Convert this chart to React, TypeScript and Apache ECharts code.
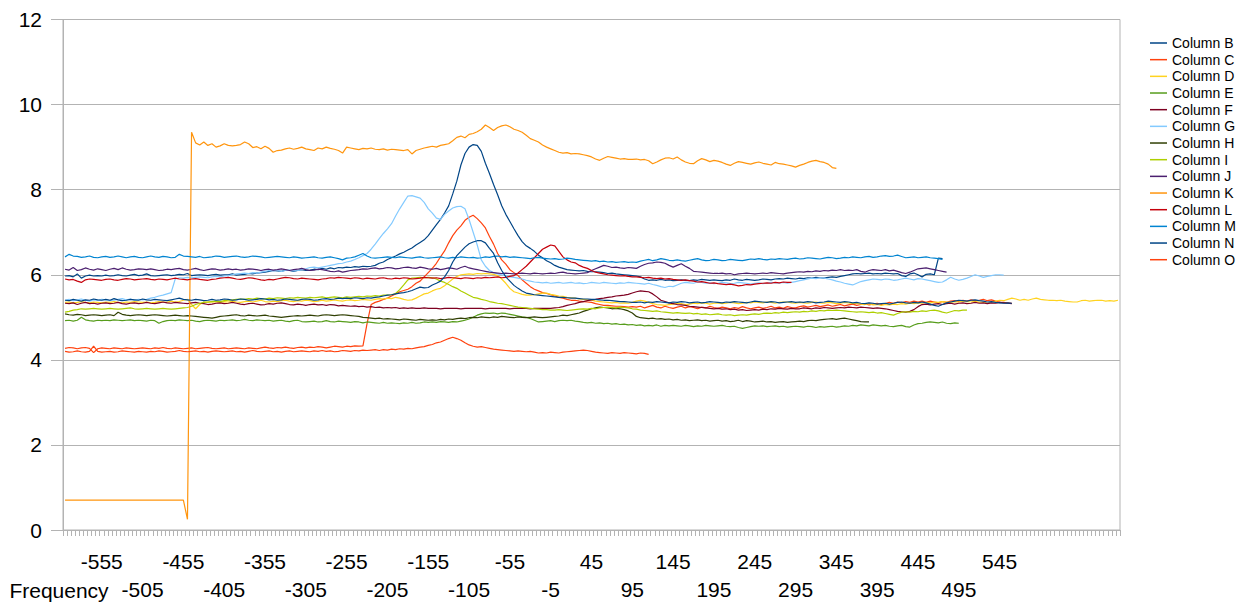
import React, { useEffect, useRef } from 'react';
import * as echarts from 'echarts';

const axisTitle = 'Frequency';

const categories: (number | string)[] = [
  -600,-595,-590,-585,-580,-575,-570,-565,-560,-555,-550,-545,-540,-535,-530,-525,-520,-515,-510,-505,
  -500,-495,-490,-485,-480,-475,-470,-465,-460,-455,-450,-445,-440,-435,-430,-425,-420,-415,-410,-405,
  -400,-395,-390,-385,-380,-375,-370,-365,-360,-355,-350,-345,-340,-335,-330,-325,-320,-315,-310,-305,
  -300,-295,-290,-285,-280,-275,-270,-265,-260,-255,-250,-245,-240,-235,-230,-225,-220,-215,-210,-205,
  -200,-195,-190,-185,-180,-175,-170,-165,-160,-155,-150,-145,-140,-135,-130,-125,-120,-115,-110,-105,
  -100,-95,-90,-85,-80,-75,-70,-65,-60,-55,-50,-45,-40,-35,-30,-25,-20,-15,-10,-5,
  0,5,10,15,20,25,30,35,40,45,50,55,60,65,70,75,80,85,90,95,
  100,105,110,115,120,125,130,135,140,145,150,155,160,165,170,175,180,185,190,195,
  200,205,210,215,220,225,230,235,240,245,250,255,260,265,270,275,280,285,290,295,
  300,305,310,315,320,325,330,335,340,345,350,355,360,365,370,375,380,385,390,395,
  400,405,410,415,420,425,430,435,440,445,450,455,460,465,470,475,480,485,490,495,
  500,505,510,515,520,525,530,535,540,545,550,555,560,
  '','','','','','','','','','','','','','','','','','','','','','','','','',''
];

const seriesNames = ['Column B','Column C','Column D','Column E','Column F','Column G','Column H','Column I','Column J','Column K','Column L','Column M','Column N','Column O'];
const colors = ['#004586','#ff420e','#ffd320','#579d1c','#7e0021','#83caff','#314004','#aecf00','#4b1f6f','#ff950e','#c5000b','#0084d1','#004586','#ff420e'];

const colB = [
5.97,5.98,5.95,6.02,5.92,5.97,5.99,5.97,5.98,5.97,
5.99,5.97,5.98,6.0,5.98,5.97,5.99,6.01,5.98,5.99,
6.02,5.98,5.97,5.98,5.99,6.0,5.98,5.99,6.01,6.0,
6.03,5.98,5.99,6.0,5.99,5.98,6.0,6.01,5.99,6.0,
6.0,6.02,5.99,6.0,6.01,6.03,6.02,6.04,6.05,6.06,
6.08,6.1,6.09,6.08,6.11,6.1,6.08,6.1,6.12,6.1,
6.11,6.13,6.12,6.15,6.13,6.16,6.14,6.17,6.16,6.18,
6.17,6.19,6.18,6.2,6.19,6.2,6.22,6.27,6.3,6.36,
6.4,6.44,6.49,6.53,6.58,6.63,6.7,6.76,6.82,6.92,
7.05,7.18,7.3,7.45,7.62,7.9,8.2,8.58,8.85,9.0,
9.06,9.04,8.9,8.62,8.38,8.12,7.88,7.62,7.42,7.25,
7.08,6.92,6.78,6.68,6.62,6.55,6.46,6.4,6.33,6.28,
6.22,6.18,6.15,6.12,6.11,6.1,6.09,6.1,6.08,6.07,
6.07,6.06,6.05,6.03,6.04,6.02,6.01,6.0,5.99,5.98,
5.97,5.95,5.9,5.87,5.88,5.87,5.89,5.87,5.88,5.86,
5.87,5.88,5.87,5.86,5.88,5.87,5.89,5.88,5.87,5.88,
5.87,5.86,5.88,5.87,5.9,5.88,5.87,5.89,5.88,5.87,
5.88,5.9,5.89,5.88,5.9,5.91,5.9,5.92,5.91,5.9,
5.92,5.91,5.93,5.92,5.94,5.93,5.92,5.94,5.95,5.94,
5.96,5.98,6.0,6.02,6.03,6.02,6.03,6.04,6.02,6.03,
6.02,6.04,6.03,6.02,6.03,5.98,5.96,6.02,6.04,6.0,
5.95,6.01,6.02,6.0,6.39,6.38
];

const colC = [
4.27,4.29,4.28,4.26,4.28,4.29,4.27,4.17,4.26,4.28,
4.27,4.26,4.28,4.27,4.26,4.28,4.27,4.26,4.27,4.28,
4.27,4.26,4.28,4.27,4.29,4.27,4.26,4.28,4.27,4.26,
4.27,4.28,4.26,4.27,4.28,4.29,4.27,4.26,4.27,4.28,
4.26,4.27,4.28,4.27,4.26,4.28,4.27,4.26,4.28,4.3,
4.28,4.27,4.29,4.28,4.3,4.28,4.27,4.29,4.3,4.28,
4.3,4.29,4.31,4.3,4.28,4.3,4.32,4.31,4.3,4.32,
4.31,4.33,4.32,4.33,4.85,5.3,5.35,5.38,5.42,5.45,
5.5,5.55,5.6,5.63,5.66,5.72,5.8,5.85,5.95,6.05,
6.15,6.27,6.42,6.56,6.75,6.92,7.05,7.15,7.28,7.35,
7.4,7.32,7.22,7.1,6.9,6.72,6.5,6.35,6.25,6.12,
6.05,5.98,5.88,5.8,5.72,5.66,5.62,5.58,5.56,5.53,
5.5,5.47,5.45,5.42,5.4,5.4,5.38,5.37,5.36,5.35,
5.32,5.3,5.28,5.28,5.27,5.26,5.26,5.25,5.24,5.25,
5.24,5.26,5.22,5.25,5.28,5.24,5.22,5.26,5.23,5.21,
5.24,5.26,5.22,5.25,5.23,5.2,5.24,5.22,5.26,5.23,
5.21,5.24,5.22,5.2,5.23,5.21,5.25,5.22,5.2,5.22,
5.24,5.21,5.23,5.26,5.22,5.24,5.21,5.25,5.23,5.22,
5.25,5.27,5.24,5.26,5.28,5.25,5.27,5.29,5.26,5.28,
5.3,5.27,5.29,5.31,5.28,5.3,5.32,5.29,5.31,5.33,
5.3,5.32,5.35,5.33,5.36,5.34,5.37,5.35,5.38,5.36,
5.38,5.35,5.38,5.36,5.34,5.37,5.35,5.38,5.39,5.37,
5.4,5.38,5.41,5.39,5.4,5.42,5.39,5.41,5.38,5.36,
5.35,5.34,5.33
];

const colD = [
5.35,5.36,5.34,5.35,5.37,5.35,5.34,5.36,5.35,5.34,
5.36,5.35,5.37,5.35,5.34,5.36,5.35,5.37,5.36,5.35,
5.36,5.34,5.35,5.37,5.36,5.35,5.38,5.36,5.37,5.4,
5.42,5.3,5.2,5.3,5.36,5.35,5.37,5.36,5.35,5.37,
5.36,5.38,5.36,5.35,5.37,5.38,5.36,5.38,5.4,5.37,
5.36,5.38,5.37,5.39,5.4,5.38,5.37,5.39,5.38,5.4,
5.39,5.37,5.38,5.4,5.38,5.39,5.41,5.39,5.38,5.4,
5.41,5.39,5.4,5.42,5.41,5.4,5.42,5.44,5.43,5.45,
5.44,5.47,5.45,5.42,5.4,5.41,5.45,5.5,5.55,5.57,
5.62,5.66,5.68,5.74,5.82,5.9,5.96,6.0,6.01,6.02,
6.01,6.03,6.02,6.03,6.02,6.01,5.98,5.9,5.8,5.68,
5.6,5.57,5.54,5.52,5.52,5.53,5.55,5.57,5.57,5.54,
5.52,5.5,5.49,5.47,5.46,5.45,5.43,5.42,5.41,5.4,
5.38,5.37,5.36,5.35,5.34,5.35,5.33,5.34,5.33,5.35,
5.38,5.4,5.38,5.35,5.32,5.3,5.29,5.28,5.3,5.31,
5.33,5.32,5.3,5.31,5.33,5.32,5.34,5.33,5.31,5.33,
5.34,5.32,5.33,5.35,5.34,5.32,5.33,5.35,5.34,5.36,
5.35,5.34,5.36,5.35,5.33,5.35,5.36,5.36,5.34,5.33,
5.35,5.34,5.33,5.35,5.36,5.34,5.33,5.35,5.34,5.32,
5.33,5.35,5.34,5.32,5.33,5.31,5.3,5.32,5.29,5.3,
5.28,5.3,5.29,5.31,5.3,5.32,5.31,5.33,5.32,5.34,
5.33,5.35,5.34,5.36,5.35,5.37,5.36,5.35,5.37,5.36,
5.38,5.37,5.36,5.38,5.35,5.36,5.33,5.36,5.38,5.4,
5.39,5.42,5.45,5.43,5.4,5.42,5.4,5.43,5.45,5.42,
5.41,5.4,5.4,5.39,5.4,5.38,5.37,5.36,5.36,5.39,
5.4,5.38,5.39,5.4,5.4,5.38,5.39,5.38,5.4
];

const colE = [
4.92,4.93,4.91,4.93,5.0,4.94,4.92,4.91,4.93,4.92,
4.93,4.92,4.94,4.93,4.92,4.93,4.94,4.92,4.93,4.92,
4.91,4.93,4.92,4.86,4.9,4.92,4.93,4.92,4.94,4.93,
4.92,4.93,4.91,4.9,4.92,4.93,4.92,4.91,4.93,4.92,
4.93,4.94,4.92,4.93,4.95,4.93,4.92,4.94,4.93,4.92,
4.93,4.91,4.92,4.93,4.91,4.9,4.92,4.93,4.9,4.89,
4.9,4.91,4.89,4.9,4.92,4.9,4.89,4.91,4.9,4.89,
4.88,4.9,4.89,4.87,4.89,4.88,4.87,4.86,4.88,4.86,
4.87,4.86,4.85,4.87,4.86,4.88,4.86,4.87,4.89,4.88,
4.89,4.88,4.9,4.89,4.88,4.9,4.89,4.91,4.93,4.96,
5.0,5.05,5.08,5.1,5.09,5.1,5.08,5.1,5.09,5.07,
5.05,5.03,5.01,5.0,4.97,4.93,4.89,4.9,4.91,4.92,
4.9,4.92,4.93,4.92,4.93,4.91,4.9,4.88,4.87,4.88,
4.86,4.87,4.85,4.86,4.84,4.85,4.83,4.84,4.82,4.83,
4.81,4.82,4.8,4.81,4.8,4.82,4.79,4.81,4.8,4.81,
4.8,4.79,4.81,4.8,4.78,4.8,4.79,4.81,4.8,4.79,
4.8,4.81,4.79,4.78,4.79,4.76,4.74,4.76,4.78,4.8,
4.79,4.8,4.78,4.79,4.8,4.78,4.79,4.77,4.78,4.79,
4.78,4.77,4.79,4.78,4.76,4.78,4.77,4.78,4.79,4.77,
4.78,4.8,4.79,4.81,4.8,4.82,4.81,4.8,4.82,4.81,
4.8,4.81,4.79,4.78,4.8,4.81,4.78,4.77,4.82,4.85,
4.86,4.88,4.89,4.88,4.87,4.89,4.86,4.85,4.87,4.86
];

const colF = [
5.33,5.32,5.34,5.3,5.33,5.35,5.32,5.33,5.31,5.33,
5.34,5.32,5.33,5.35,5.32,5.31,5.33,5.34,5.32,5.33,
5.35,5.33,5.32,5.34,5.36,5.34,5.33,5.35,5.34,5.33,
5.32,5.34,5.35,5.33,5.32,5.3,5.31,5.33,5.34,5.32,
5.33,5.35,5.33,5.31,5.3,5.32,5.33,5.31,5.29,5.3,
5.32,5.31,5.33,5.34,5.32,5.3,5.29,5.31,5.3,5.28,
5.3,5.31,5.29,5.3,5.28,5.3,5.29,5.27,5.28,5.27,
5.26,5.27,5.25,5.26,5.24,5.25,5.23,5.24,5.22,5.23,
5.22,5.23,5.21,5.22,5.21,5.22,5.21,5.21,5.22,5.21,
5.21,5.21,5.2,5.21,5.21,5.21,5.21,5.2,5.21,5.21,
5.21,5.21,5.21,5.2,5.21,5.21,5.21,5.21,5.21,5.2,
5.21,5.21,5.21,5.21,5.2,5.21,5.21,5.21,5.21,5.21,
5.22,5.23,5.25,5.28,5.3,5.32,5.35,5.37,5.39,5.41,
5.42,5.44,5.45,5.47,5.48,5.5,5.51,5.52,5.54,5.57,
5.6,5.62,5.61,5.6,5.55,5.48,5.4,5.37,5.34,5.32,
5.3,5.29,5.28,5.26,5.25,5.24,5.23,5.22,5.21,5.2,
5.21,5.19,5.2,5.18,5.19,5.17,5.18,5.16,5.17,5.18,
5.17,5.19,5.18,5.2,5.19,5.21,5.2,5.19,5.21,5.2,
5.2,5.22,5.21,5.2,5.22,5.21,5.23,5.22,5.21,5.22,
5.23,5.22,5.24,5.23,5.22,5.24,5.23,5.22,5.21,5.22,
5.21,5.2,5.18,5.16,5.14,5.13,5.12,5.14,5.18,5.25,
5.3,5.31,5.29,5.31,5.32,5.3,5.32,5.33,5.31,5.33,
5.34,5.32,5.33,5.35,5.33,5.34,5.32,5.34,5.33,5.35,
5.34,5.33,5.32
];

const colG = [
5.4,5.42,5.39,5.41,5.43,5.4,5.38,5.41,5.4,5.42,
5.41,5.39,5.4,5.42,5.44,5.41,5.43,5.4,5.42,5.41,
5.42,5.45,5.47,5.5,5.52,5.55,5.58,5.9,5.93,5.92,
5.94,5.93,5.94,5.95,5.94,5.93,5.95,5.96,5.95,5.97,
5.98,6.0,6.02,6.03,6.04,6.03,6.05,6.04,6.06,6.08,
6.1,6.09,6.1,6.08,6.1,6.11,6.09,6.1,6.12,6.14,
6.17,6.18,6.16,6.18,6.2,6.22,6.24,6.26,6.27,6.3,
6.32,6.36,6.4,6.45,6.5,6.6,6.72,6.85,6.97,7.08,
7.2,7.38,7.55,7.7,7.85,7.86,7.83,7.8,7.7,7.55,
7.45,7.33,7.3,7.42,7.5,7.57,7.6,7.61,7.55,7.3,
7.0,6.7,6.35,6.2,6.1,6.05,6.02,6.0,5.98,5.95,
5.94,5.92,5.9,5.87,5.85,5.83,5.82,5.81,5.82,5.8,
5.81,5.82,5.8,5.81,5.82,5.8,5.81,5.79,5.8,5.82,
5.81,5.8,5.82,5.81,5.8,5.79,5.81,5.8,5.82,5.81,
5.8,5.79,5.78,5.8,5.77,5.75,5.72,5.7,5.73,5.72,
5.76,5.8,5.82,5.81,5.8,5.83,5.82,5.8,5.81,5.79,
5.8,5.82,5.81,5.79,5.8,5.82,5.81,5.8,5.78,5.8,
5.81,5.79,5.8,5.82,5.81,5.8,5.82,5.8,5.82,5.84,
5.86,5.88,5.9,5.92,5.91,5.93,5.92,5.9,5.88,5.85,
5.83,5.8,5.78,5.76,5.8,5.84,5.86,5.88,5.9,5.89,
5.88,5.9,5.89,5.87,5.88,5.9,5.92,5.9,5.88,5.91,
5.9,5.88,5.86,5.84,5.82,5.83,5.88,5.94,5.9,5.87,
5.89,5.92,5.96,6.0,5.97,5.94,5.96,5.98,6.0,6.0,
5.99
];

const colH = [
5.08,5.06,5.05,5.07,5.06,5.04,5.05,5.06,5.05,5.04,
5.05,5.06,5.04,5.12,5.07,5.05,5.04,5.05,5.06,5.05,
5.04,5.05,5.06,5.05,5.04,5.03,5.04,5.05,5.04,5.03,
5.04,5.03,5.02,5.01,5.0,4.99,4.98,5.0,5.02,5.03,
5.04,5.05,5.06,5.04,5.03,5.05,5.04,5.03,5.04,5.05,
5.03,5.02,5.01,5.0,5.01,5.02,5.03,5.04,5.03,5.04,
5.05,5.04,5.03,5.05,5.06,5.05,5.04,5.05,5.06,5.05,
5.04,5.03,5.02,5.0,4.99,4.98,4.97,4.98,4.96,4.97,
4.96,4.95,4.94,4.96,4.95,4.94,4.93,4.95,4.94,4.93,
4.94,4.93,4.95,4.94,4.96,4.95,4.97,4.98,4.97,4.99,
5.0,4.99,5.01,5.0,4.99,5.01,5.0,5.02,5.01,5.0,
4.99,5.01,5.0,4.99,5.0,5.01,5.0,4.99,5.0,5.01,
5.02,5.03,5.05,5.04,5.06,5.08,5.1,5.14,5.17,5.2,
5.22,5.24,5.23,5.22,5.2,5.21,5.2,5.18,5.15,5.1,
5.02,4.99,4.98,4.97,4.98,4.96,4.97,4.95,4.96,4.94,
4.95,4.93,4.94,4.92,4.93,4.94,4.92,4.93,4.91,4.92,
4.93,4.91,4.92,4.9,4.91,4.93,4.9,4.92,4.91,4.89,
4.9,4.91,4.89,4.9,4.88,4.89,4.9,4.88,4.89,4.9,
4.91,4.9,4.92,4.93,4.92,4.94,4.95,4.96,4.97,4.95,
4.97,4.98,4.96,4.94,4.92,4.9,4.89,4.89
];

const colI = [
5.12,5.14,5.17,5.18,5.2,5.19,5.2,5.21,5.2,5.19,
5.2,5.21,5.2,5.19,5.2,5.21,5.22,5.2,5.19,5.2,
5.21,5.2,5.19,5.2,5.21,5.2,5.19,5.2,5.21,5.22,
5.23,5.26,5.3,5.33,5.35,5.36,5.37,5.38,5.37,5.39,
5.4,5.41,5.42,5.43,5.42,5.44,5.43,5.45,5.44,5.43,
5.45,5.44,5.46,5.45,5.44,5.46,5.45,5.47,5.46,5.45,
5.47,5.46,5.47,5.48,5.46,5.47,5.48,5.47,5.46,5.48,
5.47,5.48,5.49,5.48,5.5,5.49,5.51,5.5,5.52,5.52,
5.53,5.56,5.65,5.76,5.88,5.92,5.93,5.94,5.93,5.94,
5.93,5.9,5.85,5.82,5.77,5.72,5.68,5.62,5.57,5.52,
5.47,5.45,5.42,5.4,5.37,5.35,5.33,5.32,5.3,5.28,
5.26,5.24,5.23,5.22,5.21,5.2,5.19,5.18,5.18,5.17,
5.17,5.18,5.17,5.16,5.17,5.18,5.19,5.2,5.19,5.21,
5.2,5.22,5.23,5.24,5.23,5.22,5.24,5.23,5.22,5.2,
5.19,5.17,5.16,5.15,5.14,5.15,5.13,5.12,5.11,5.1,
5.11,5.1,5.09,5.1,5.08,5.09,5.07,5.08,5.06,5.07,
5.08,5.06,5.05,5.06,5.04,5.05,5.06,5.05,5.07,5.08,
5.07,5.09,5.1,5.09,5.11,5.1,5.12,5.11,5.12,5.13,
5.12,5.14,5.13,5.15,5.14,5.16,5.15,5.17,5.16,5.17,
5.16,5.15,5.14,5.13,5.12,5.13,5.12,5.11,5.12,5.1,
5.11,5.09,5.07,5.05,5.09,5.12,5.13,5.12,5.14,5.13,
5.15,5.14,5.16,5.17,5.15,5.12,5.1,5.13,5.16,5.15,
5.17,5.17
];

const colJ = [
6.13,6.11,6.17,6.1,6.12,6.16,6.13,6.11,6.14,6.12,
6.1,6.13,6.15,6.12,6.16,6.13,6.11,6.12,6.14,6.13,
6.12,6.14,6.12,6.1,6.11,6.13,6.12,6.14,6.15,6.12,
6.11,6.13,6.15,6.12,6.1,6.12,6.14,6.13,6.11,6.12,
6.14,6.12,6.13,6.11,6.12,6.14,6.13,6.12,6.1,6.12,
6.13,6.11,6.12,6.14,6.12,6.1,6.12,6.13,6.15,6.12,
6.1,6.11,6.13,6.12,6.1,6.08,6.07,6.09,6.06,6.08,
6.1,6.11,6.12,6.14,6.13,6.15,6.16,6.14,6.15,6.17,
6.16,6.14,6.15,6.17,6.18,6.16,6.15,6.18,6.16,6.14,
6.13,6.15,6.12,6.14,6.16,6.15,6.13,6.17,6.2,6.16,
6.14,6.12,6.1,6.08,6.06,6.05,6.04,6.03,6.04,6.03,
6.02,6.03,6.04,6.03,6.02,6.04,6.03,6.02,6.03,6.04,
6.03,6.05,6.06,6.04,6.03,6.02,6.03,6.04,6.05,6.1,
6.14,6.18,6.22,6.2,6.17,6.18,6.16,6.15,6.17,6.16,
6.15,6.2,6.24,6.27,6.28,6.3,6.29,6.27,6.22,6.18,
6.22,6.26,6.2,6.15,6.08,6.07,6.06,6.05,6.04,6.03,
6.03,6.04,6.02,6.03,6.0,6.02,6.03,6.04,6.03,6.02,
6.03,6.04,6.03,6.05,6.04,6.03,6.02,6.04,6.05,6.06,
6.07,6.06,6.08,6.07,6.09,6.08,6.1,6.09,6.11,6.1,
6.12,6.1,6.11,6.1,6.12,6.08,6.06,6.1,6.12,6.11,
6.1,6.12,6.09,6.11,6.08,6.05,6.03,6.06,6.1,6.14,
6.15,6.16,6.14,6.12,6.1,6.08,6.06
];

const colK = [
0.7,0.7,0.7,0.7,0.7,0.7,0.7,0.7,0.7,0.7,
0.7,0.7,0.7,0.7,0.7,0.7,0.7,0.7,0.7,0.7,
0.7,0.7,0.7,0.7,0.7,0.7,0.7,0.7,0.7,0.7,
0.25,9.35,9.1,9.05,9.12,9.04,9.08,9.0,9.03,9.08,
9.04,9.03,9.04,9.06,9.12,9.08,8.99,9.01,8.96,9.02,
8.97,8.88,8.92,8.93,8.96,8.98,8.95,8.97,9.0,8.96,
8.94,8.92,8.98,8.96,9.0,8.97,8.95,8.92,8.86,9.0,
8.98,8.96,8.94,8.97,8.96,8.98,8.95,8.94,8.96,8.93,
8.95,8.94,8.93,8.92,8.94,8.84,8.92,8.95,8.98,9.0,
9.02,9.0,9.04,9.06,9.08,9.15,9.23,9.26,9.22,9.3,
9.32,9.36,9.42,9.52,9.46,9.39,9.46,9.5,9.52,9.48,
9.42,9.39,9.35,9.28,9.2,9.16,9.12,9.05,9.0,8.96,
8.92,8.88,8.86,8.87,8.84,8.85,8.84,8.82,8.8,8.77,
8.72,8.69,8.74,8.78,8.76,8.74,8.72,8.73,8.71,8.71,
8.72,8.7,8.71,8.68,8.61,8.65,8.7,8.74,8.75,8.72,
8.77,8.7,8.65,8.62,8.61,8.68,8.73,8.7,8.66,8.69,
8.67,8.64,8.6,8.57,8.62,8.66,8.64,8.62,8.6,8.63,
8.65,8.62,8.6,8.58,8.64,8.61,8.6,8.58,8.56,8.53,
8.57,8.6,8.64,8.67,8.69,8.66,8.64,8.6,8.52,8.5
];

const colL = [
5.9,5.88,5.89,5.85,5.82,5.88,5.9,5.89,5.88,5.87,
5.89,5.9,5.88,5.87,5.89,5.91,5.9,5.88,5.89,5.9,
5.91,5.89,5.88,5.9,5.89,5.88,5.9,5.92,5.9,5.89,
5.88,5.9,5.91,5.89,5.88,5.87,5.89,5.9,5.92,5.93,
5.94,5.92,5.9,5.89,5.91,5.93,5.92,5.9,5.88,5.87,
5.89,5.88,5.9,5.92,5.94,5.93,5.91,5.9,5.92,5.91,
5.9,5.89,5.88,5.9,5.91,5.93,5.92,5.94,5.93,5.92,
5.91,5.93,5.92,5.9,5.92,5.91,5.9,5.92,5.93,5.91,
5.9,5.92,5.91,5.93,5.92,5.9,5.91,5.92,5.94,5.93,
5.92,5.93,5.91,5.92,5.94,5.93,5.92,5.91,5.93,5.92,
5.91,5.93,5.92,5.94,5.93,5.94,5.95,5.93,5.94,5.96,
5.98,6.04,6.12,6.2,6.3,6.4,6.5,6.6,6.65,6.7,
6.68,6.55,6.42,6.35,6.3,6.28,6.22,6.18,6.15,6.1,
6.06,6.04,6.02,6.0,5.99,5.98,5.97,5.98,5.96,5.95,
5.95,5.94,5.93,5.94,5.92,5.91,5.92,5.9,5.91,5.89,
5.88,5.87,5.88,5.86,5.85,5.83,5.84,5.82,5.8,5.81,
5.79,5.78,5.77,5.78,5.76,5.74,5.75,5.77,5.76,5.78,
5.79,5.8,5.81,5.8,5.82,5.81,5.83,5.82,5.82
];

const colM = [
6.42,6.48,6.44,6.43,6.41,6.42,6.44,6.41,6.4,6.42,
6.43,6.41,6.42,6.44,6.42,6.4,6.42,6.43,6.41,6.4,
6.42,6.44,6.42,6.41,6.43,6.42,6.4,6.41,6.48,6.44,
6.43,6.42,6.41,6.43,6.4,6.41,6.42,6.44,6.43,6.41,
6.42,6.43,6.44,6.42,6.41,6.42,6.44,6.43,6.42,6.4,
6.41,6.42,6.43,6.42,6.41,6.4,6.42,6.41,6.39,6.4,
6.41,6.42,6.4,6.39,6.41,6.42,6.4,6.38,6.35,6.39,
6.4,6.42,6.46,6.5,6.44,6.4,6.39,6.4,6.41,6.42,
6.41,6.4,6.42,6.41,6.4,6.39,6.41,6.42,6.4,6.39,
6.4,6.41,6.42,6.4,6.39,6.41,6.4,6.42,6.41,6.4,
6.41,6.39,6.4,6.42,6.41,6.43,6.44,6.42,6.43,6.41,
6.42,6.41,6.4,6.39,6.38,6.4,6.41,6.39,6.38,6.37,
6.38,6.36,6.37,6.39,6.38,6.36,6.35,6.34,6.33,6.32,
6.33,6.31,6.32,6.3,6.31,6.29,6.3,6.31,6.29,6.3,
6.29,6.32,6.34,6.36,6.33,6.35,6.38,6.36,6.34,6.33,
6.35,6.33,6.32,6.34,6.36,6.38,6.35,6.33,6.34,6.36,
6.35,6.33,6.34,6.36,6.35,6.34,6.33,6.35,6.37,6.36,
6.38,6.36,6.35,6.37,6.36,6.38,6.37,6.36,6.38,6.39,
6.37,6.38,6.4,6.39,6.38,6.37,6.39,6.41,6.4,6.38,
6.39,6.41,6.4,6.42,6.41,6.4,6.42,6.43,6.41,6.42,
6.44,6.45,6.43,6.44,6.46,6.43,6.4,6.41,6.42,6.4,
6.41,6.42,6.4,6.39,6.38,6.36
];

const colN = [
5.4,5.39,5.42,5.4,5.38,5.41,5.4,5.43,5.41,5.4,
5.42,5.4,5.44,5.41,5.39,5.4,5.42,5.41,5.4,5.43,
5.41,5.4,5.42,5.41,5.4,5.39,5.41,5.43,5.45,5.42,
5.41,5.4,5.42,5.41,5.39,5.4,5.42,5.4,5.41,5.43,
5.42,5.4,5.41,5.43,5.42,5.4,5.41,5.42,5.44,5.43,
5.41,5.42,5.4,5.41,5.43,5.42,5.41,5.4,5.42,5.43,
5.42,5.4,5.41,5.43,5.44,5.42,5.43,5.45,5.44,5.45,
5.44,5.46,5.45,5.44,5.46,5.45,5.47,5.48,5.5,5.52,
5.53,5.55,5.57,5.58,5.6,5.63,5.67,5.71,5.69,5.7,
5.76,5.8,5.85,5.95,6.1,6.3,6.45,6.55,6.65,6.73,
6.77,6.8,6.8,6.75,6.62,6.5,6.28,6.1,5.95,5.85,
5.75,5.68,5.62,5.57,5.55,5.53,5.52,5.51,5.5,5.49,
5.48,5.47,5.47,5.46,5.45,5.45,5.44,5.43,5.43,5.42,
5.42,5.41,5.4,5.4,5.39,5.38,5.37,5.37,5.36,5.35,
5.35,5.36,5.34,5.36,5.35,5.37,5.36,5.35,5.34,5.36,
5.35,5.37,5.36,5.34,5.35,5.36,5.34,5.35,5.37,5.36,
5.35,5.34,5.36,5.35,5.37,5.36,5.35,5.34,5.36,5.38,
5.37,5.36,5.35,5.37,5.36,5.34,5.35,5.36,5.37,5.35,
5.36,5.35,5.37,5.36,5.34,5.35,5.36,5.38,5.37,5.36,
5.35,5.37,5.36,5.34,5.35,5.33,5.32,5.34,5.33,5.31,
5.32,5.33,5.31,5.33,5.35,5.36,5.34,5.33,5.35,5.34,
5.36,5.34,5.31,5.28,5.26,5.3,5.34,5.36,5.38,5.4,
5.39,5.38,5.4,5.41,5.39,5.38,5.36,5.37,5.35,5.34,
5.33,5.34,5.33
];

const colO = [
4.2,4.18,4.19,4.21,4.19,4.18,4.2,4.32,4.2,4.18,
4.19,4.2,4.18,4.19,4.21,4.2,4.19,4.18,4.2,4.19,
4.18,4.2,4.19,4.21,4.2,4.18,4.19,4.2,4.22,4.2,
4.19,4.2,4.21,4.19,4.2,4.18,4.2,4.21,4.2,4.19,
4.2,4.21,4.19,4.2,4.18,4.2,4.22,4.2,4.19,4.2,
4.21,4.19,4.2,4.18,4.2,4.21,4.19,4.2,4.21,4.2,
4.19,4.21,4.2,4.22,4.2,4.21,4.19,4.2,4.22,4.21,
4.2,4.22,4.21,4.23,4.22,4.23,4.24,4.22,4.24,4.23,
4.25,4.24,4.26,4.25,4.27,4.26,4.28,4.3,4.31,4.34,
4.36,4.4,4.42,4.46,4.5,4.53,4.5,4.46,4.4,4.35,
4.32,4.3,4.31,4.29,4.27,4.25,4.24,4.23,4.22,4.21,
4.2,4.21,4.2,4.19,4.2,4.18,4.16,4.17,4.16,4.18,
4.17,4.16,4.18,4.19,4.2,4.21,4.22,4.23,4.22,4.2,
4.18,4.17,4.16,4.15,4.17,4.16,4.15,4.17,4.16,4.15,
4.14,4.16,4.15,4.13
];

const seriesData = [colB, colC, colD, colE, colF, colG, colH, colI, colJ, colK, colL, colM, colN, colO];

const FONT = '"Liberation Sans", Arial, sans-serif';
const AXIS_FONT = 21;

export default function App() {
  const ref = useRef<HTMLDivElement>(null);
  useEffect(() => {
    if (!ref.current) return;
    const chart = echarts.init(ref.current, null, { renderer: 'svg' });
    const catData = categories.map((c) => String(c));
    const labelBase = { fontSize: AXIS_FONT, color: '#000', fontFamily: FONT, hideOverlap: false };
    chart.setOption({
      animation: false,
      textStyle: { fontFamily: FONT },
      grid: {
        left: 63, right: 128, top: 19.5, bottom: 74,
        containLabel: false, outerBoundsMode: 'none',
        show: true, borderColor: '#b3b3b3', borderWidth: 1, backgroundColor: 'transparent',
      },
      legend: {
        orient: 'vertical',
        left: 1145,
        top: 31,
        icon: 'rect',
        itemWidth: 17,
        itemHeight: 1.5,
        itemGap: 2.67,
        textStyle: { fontSize: 14, lineHeight: 14, color: '#000', fontFamily: FONT },
        data: seriesNames,
      },
      graphic: [
        {
          type: 'text',
          x: 59,
          y: 590,
          silent: true,
          style: { text: axisTitle, fontSize: AXIS_FONT, fontFamily: FONT, fill: '#000', align: 'center', verticalAlign: 'middle' },
        },
      ],
      xAxis: [
        {
          type: 'category',
          data: catData,
          boundaryGap: true,
          position: 'bottom',
          axisLine: { show: true, lineStyle: { color: '#b3b3b3', width: 1 } },
          axisTick: { show: true, interval: 0, length: 6, lineStyle: { color: '#b3b3b3' } },
          axisLabel: {
            ...labelBase,
            interval: (index: number) => (index + 1) % 20 === 10,
            margin: 21,
          },
          splitLine: { show: false },
        },
        {
          type: 'category',
          data: catData,
          boundaryGap: true,
          position: 'bottom',
          offset: 0,
          axisLine: { show: false },
          axisTick: { show: false },
          axisLabel: {
            ...labelBase,
            interval: (index: number) => (index + 1) % 20 === 0,
            margin: 49,
          },
          splitLine: { show: false },
        },
      ],
      yAxis: {
        type: 'value',
        min: 0,
        max: 12,
        interval: 2,
        axisLine: { show: true, lineStyle: { color: '#b3b3b3', width: 1 } },
        axisTick: { show: true, length: 12, lineStyle: { color: '#b3b3b3' } },
        axisLabel: { fontSize: AXIS_FONT, color: '#000', margin: 21, fontFamily: FONT },
        splitLine: { show: true, lineStyle: { color: '#b3b3b3', width: 1 } },
      },
      series: seriesNames.map((name, i) => ({
        name,
        type: 'line',
        xAxisIndex: 0,
        data: seriesData[i],
        symbol: 'none',
        showSymbol: false,
        color: colors[i],
        itemStyle: { color: colors[i] },
        lineStyle: { color: colors[i], width: 1.2 },
        silent: true,
        emphasis: { disabled: true },
      })),
    });
    return () => chart.dispose();
  }, []);
  return <div ref={ref} style={{ position: 'absolute', left: 0, top: 0, width: 1248, height: 604 }} />;
}
